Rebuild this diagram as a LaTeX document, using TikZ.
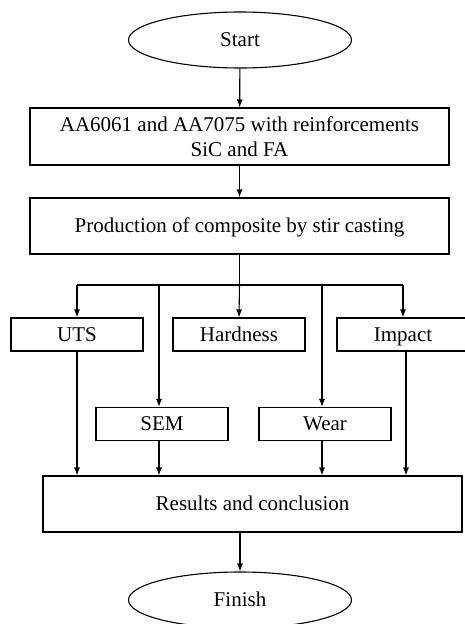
\documentclass[tikz,border=0pt]{standalone}
\usepackage{fontspec}
\setmainfont{Liberation Serif}
\usepackage{tikz}
\usetikzlibrary{arrows.meta, shapes.geometric}

\begin{document}
\begin{tikzpicture}[>={Latex[length=8pt,width=6pt]}, x=1pt, y=-1pt, line width=1.1pt, font=\fontsize{21}{25}\selectfont]
\tikzstyle{every node}=[inner sep=0pt]
\tikzstyle{term}=[draw=black, ellipse, minimum width=223pt, minimum height=56pt, text height=14pt, text depth=1pt]
\tikzstyle{wide}=[draw=black, rectangle, minimum width=419pt, minimum height=56pt, align=center]
\tikzstyle{test}=[draw=black, rectangle, minimum width=132pt, minimum height=33pt, text height=14pt, text depth=1pt]
\useasboundingbox (0,0) rectangle (465,624);

\node[term] (start) at (240,40) {Start};
\node[wide, minimum height=57pt] (mat) at (239.5,136.5) {AA6061 and AA7075 with reinforcements\\SiC and FA};
\node[wide, text height=14pt, text depth=1pt] (prod) at (239.5,226) {Production of composite by stir casting};

\node[test] (uts) at (77,334.5) {UTS};
\node[test] (hard) at (239,334.5) {Hardness};
\node[test] (imp) at (403,334.5) {Impact};
\node[test] (sem) at (162,424) {SEM};
\node[test] (wear) at (325,424) {Wear};

\node[wide, text height=14pt, text depth=1pt] (res) at (252.5,504) {Results and conclusion};
\node[term] (fin) at (240,600) {Finish};

\coordinate (split) at (239.5,285);

\draw[->] (start) -- (mat);
\draw[->] (mat) -- (prod);
\draw (prod) -- (split);
\draw (uts.north |- split) -- (imp.north |- split);
\draw[->] (uts.north |- split) -- (uts.north);
\draw[->] (split) -- (hard.north);
\draw[->] (imp.north |- split) -- (imp.north);
\draw[->] ([xshift=-3pt]sem.north |- split) -- ([xshift=-3pt]sem.north);
\draw[->] ([xshift=-3pt]wear.north |- split) -- ([xshift=-3pt]wear.north);

\draw[->] (uts.south) -- (uts.south |- res.north);
\draw[->] ([xshift=-3pt]sem.south) -- ([xshift=-3pt]sem.south |- res.north);
\draw[->] ([xshift=-3pt]wear.south) -- ([xshift=-3pt]wear.south |- res.north);
\draw[->] ([xshift=3pt]imp.south) -- ([xshift=3pt]imp.south |- res.north);
\draw[->] (res.south -| fin.north) -- (fin.north);
\end{tikzpicture}
\end{document}
